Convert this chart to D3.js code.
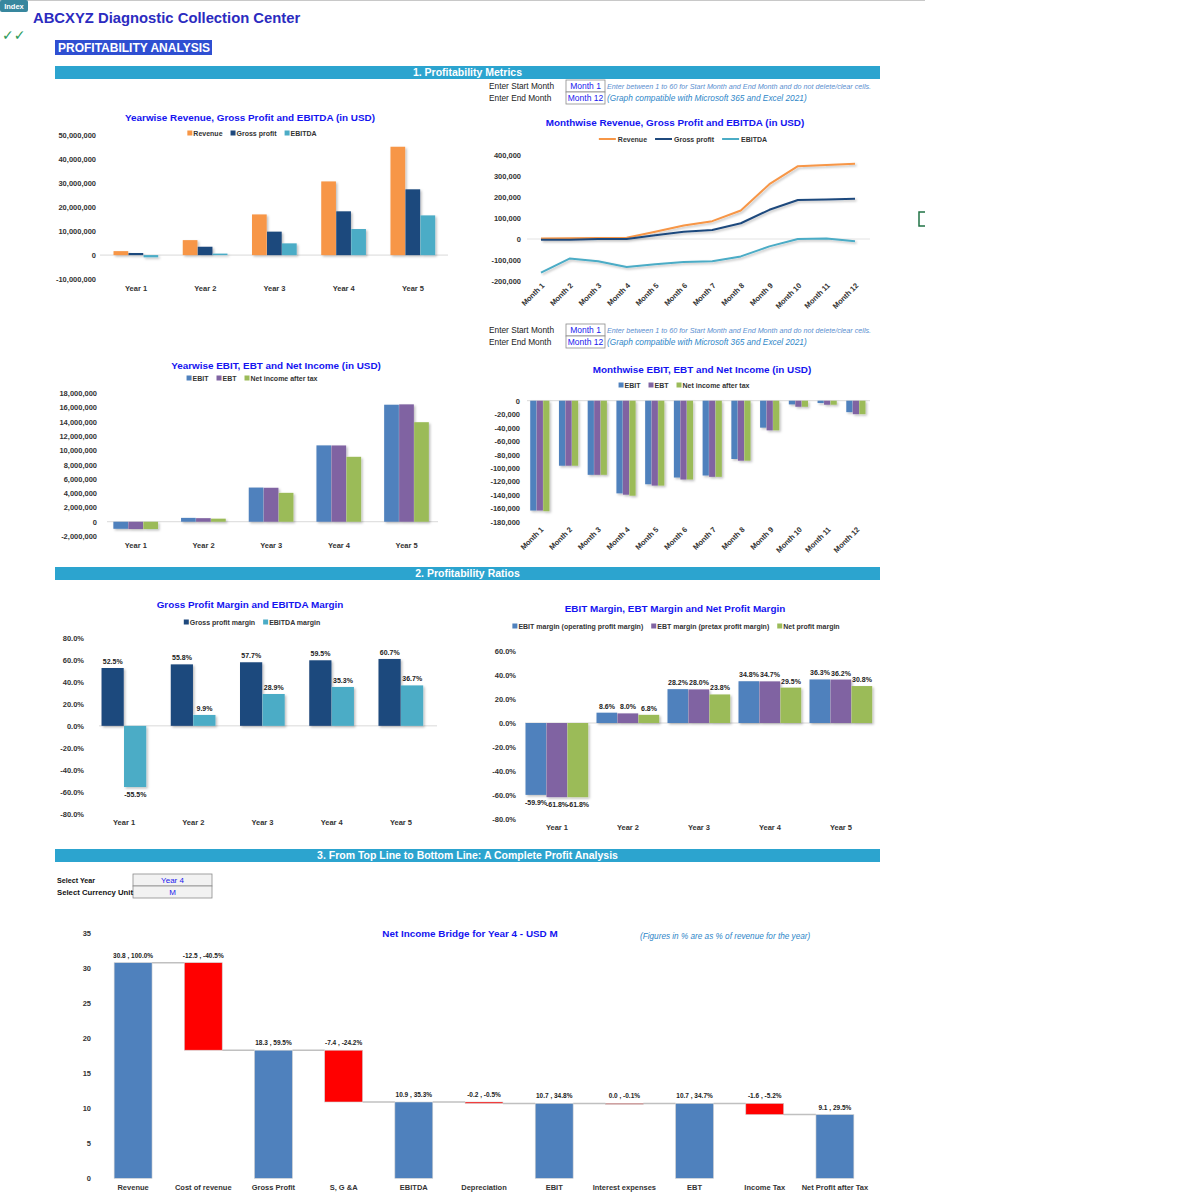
<!DOCTYPE html>
<html>
<head>
<meta charset="utf-8">
<script src="https://cdn.jsdelivr.net/npm/d3@7"></script>
<style>
  body { margin: 0; background: #fff; }
  svg { display: block; }
  text { font-family: "Liberation Sans", Arial, sans-serif; }
  .ctitle { font-size: 9.9px; font-weight: bold; fill: #1414f0; }
  .leg { font-size: 7px; font-weight: bold; fill: #333; }
  .axis text { font-size: 7.5px; font-weight: bold; fill: #333; font-family: "Liberation Sans", Arial, sans-serif; }
  .cat { font-size: 7.5px; font-weight: bold; fill: #333; }
  .dlab { font-size: 7px; font-weight: bold; fill: #222; }
  .blab { font-size: 6.5px; font-weight: bold; fill: #222; }
  .narrow { font-family: "Liberation Sans Narrow", "Arial Narrow", "Liberation Sans", sans-serif; }
</style>
</head>
<body>
<div id="plot"></div>
<script>
// ---- data ----
const years = ["Year 1", "Year 2", "Year 3", "Year 4", "Year 5"];
const months = ["Month 1", "Month 2", "Month 3", "Month 4", "Month 5", "Month 6",
  "Month 7", "Month 8", "Month 9", "Month 10", "Month 11", "Month 12"];

const revenueYear = [1650000, 6250000, 17000000, 30800000, 45300000];
const grossProfitYear = [870000, 3490000, 9800000, 18300000, 27500000];
const ebitdaYear = [-940000, 620000, 4900000, 10900000, 16600000];

const revenueMonth = [2000, 3000, 5000, 6000, 35000, 64000, 85000, 136000, 261000, 347000, 352000, 358000];
const grossProfitMonth = [-4000, -3000, 0, 0, 18000, 34000, 43000, 75000, 139000, 186000, 188000, 192000];
const ebitdaMonth = [-160000, -93000, -106000, -133000, -120000, -110000, -106000, -83000, -35000, 0, 2000, -11000];

const ebitYear = [-990000, 540000, 4790000, 10700000, 16400000];
const ebtYear = [-1020000, 500000, 4760000, 10690000, 16450000];
const netIncomeYear = [-1020000, 430000, 4050000, 9100000, 13950000];

const ebitMonth = [-163000, -96500, -110000, -137500, -124000, -114000, -111000, -86500, -40000, -5500, -3500, -17000];
const ebtMonth = [-163000, -96500, -110000, -139500, -126000, -117000, -113000, -89000, -44000, -9000, -6000, -20000];
const netIncomeMonth = [-164000, -96500, -110000, -141000, -126000, -117000, -113000, -89000, -44000, -9000, -6000, -20000];

const grossMargin = [52.5, 55.8, 57.7, 59.5, 60.7];
const ebitdaMargin = [-55.5, 9.9, 28.9, 35.3, 36.7];
const ebitMargin = [-59.9, 8.6, 28.2, 34.8, 36.3];
const ebtMargin = [-61.8, 8.0, 28.0, 34.7, 36.2];
const netMargin = [-61.8, 6.8, 23.8, 29.5, 30.8];

const bridgeSteps = ["Revenue", "Cost of revenue", "Gross Profit", "S, G &A", "EBITDA", "Depreciation",
  "EBIT", "Interest expenses", "EBT", "Income Tax", "Net Profit after Tax"];
const bridgeValues = [30.8, -12.5, 18.3, -7.4, 10.9, -0.2, 10.7, -0.03, 10.7, -1.6, 9.1];
const bridgePct = [100.0, -40.5, 59.5, -24.2, 35.3, -0.5, 34.8, -0.1, 34.7, -5.2, 29.5];
const bridgeIsTotal = [true, false, true, false, true, false, true, false, true, false, true];

const ticksRevYear = [-10000000, 0, 10000000, 20000000, 30000000, 40000000, 50000000];
const ticksRevMonth = [-200000, -100000, 0, 100000, 200000, 300000, 400000];
const ticksEbitYear = [-2000000, 0, 2000000, 4000000, 6000000, 8000000, 10000000, 12000000, 14000000, 16000000, 18000000];
const ticksEbitMonth = [-180000, -160000, -140000, -120000, -100000, -80000, -60000, -40000, -20000, 0];
const ticksMargin1 = [-80, -60, -40, -20, 0, 20, 40, 60, 80];
const ticksMargin2 = [-80, -60, -40, -20, 0, 20, 40, 60];
const ticksBridge = [0, 5, 10, 15, 20, 25, 30, 35];

const C = {
  orange: "#f79646", navy: "#1f497d", teal: "#4bacc6",
  blue: "#4f81bd", purple: "#8064a2", green: "#9bbb59", red: "#ff0000"
};

const width = 1200, height = 1200;
const svg = d3.select("#plot").append("svg").attr("width", width).attr("height", height);

const defs = svg.append("defs");
defs.append("filter").attr("id", "sh").attr("x", "-20%").attr("y", "-20%").attr("width", "150%").attr("height", "150%")
  .append("feDropShadow").attr("dx", 1.5).attr("dy", 1.5).attr("stdDeviation", 1)
  .attr("flood-color", "#000").attr("flood-opacity", 0.25);

const num = d => (d < 0 ? "-" : "") + d3.format(",")(Math.abs(d));
const pct = d => d.toFixed(1) + "%";

// ---- page furniture ----
svg.append("line").attr("x1", 0).attr("x2", 925).attr("y1", 0.5).attr("y2", 0.5).attr("stroke", "#c8c8c8");
svg.append("rect").attr("x", 0).attr("y", 0).attr("width", 28).attr("height", 12).attr("rx", 2).attr("fill", "#38879e");
svg.append("text").attr("x", 14).attr("y", 9).attr("text-anchor", "middle").attr("fill", "#fff")
  .attr("font-size", 7.5).attr("font-weight", "bold").text("Index");
svg.append("text").attr("x", 33).attr("y", 23).attr("fill", "#2b2bc0").attr("font-size", 14.8).attr("font-weight", "bold")
  .text("ABCXYZ Diagnostic Collection Center");
svg.append("text").attr("x", 2).attr("y", 40).attr("fill", "#2e9a5a").attr("font-size", 14).attr("font-weight", "bold")
  .style("font-family", "'DejaVu Sans'").text("✓✓");
svg.append("rect").attr("x", 55).attr("y", 40).attr("width", 157).attr("height", 15).attr("fill", "#2f4fd2");
svg.append("text").attr("x", 58).attr("y", 52).attr("fill", "#fff").attr("font-size", 12).attr("font-weight", "bold")
  .text("PROFITABILITY ANALYSIS");

function sectionBar(y, label) {
  svg.append("rect").attr("x", 55).attr("y", y).attr("width", 825).attr("height", 13).attr("fill", "#2ca4cf");
  svg.append("text").attr("class", "narrow").attr("x", 467.5).attr("y", y + 10).attr("text-anchor", "middle")
    .attr("fill", "#fff").attr("font-size", 10.5).attr("font-weight", "bold").text(label);
}
sectionBar(66, "1. Profitability Metrics");
sectionBar(567, "2. Profitability Ratios");
sectionBar(849, "3. From Top Line to Bottom Line: A Complete Profit Analysis");

function monthInputs(y) {
  const rows = [["Enter Start Month", "Month 1"], ["Enter End Month", "Month 12"]];
  rows.forEach((r, i) => {
    const yy = y + i * 12;
    svg.append("text").attr("class", "narrow").attr("x", 489).attr("y", yy + 9).attr("font-size", 8.3).attr("fill", "#222").text(r[0]);
    svg.append("rect").attr("x", 566).attr("y", yy).attr("width", 39).attr("height", 12)
      .attr("fill", "#fff").attr("stroke", "#8c8c8c").attr("stroke-width", 0.8);
    svg.append("text").attr("class", "narrow").attr("x", 585.5).attr("y", yy + 9).attr("text-anchor", "middle")
      .attr("font-size", 8.5).attr("fill", "#2020ee").text(r[1]);
  });
  svg.append("text").attr("x", 607).attr("y", y + 8.5).attr("font-size", 7.2).attr("font-style", "italic")
    .attr("fill", "#5b8fd0").text("Enter between 1 to 60 for Start Month and End Month and do not delete/clear cells.");
  svg.append("text").attr("x", 607).attr("y", y + 21).attr("font-size", 8.3).attr("font-style", "italic")
    .attr("fill", "#2e86c8").text("(Graph compatible with Microsoft 365 and Excel 2021)");
}
monthInputs(80);
monthInputs(324);

// selection artefact on the right
svg.append("path").attr("d", "M925,212 L919,212 L919,226 L925,226").attr("fill", "none")
  .attr("stroke", "#217346").attr("stroke-width", 1.5);

// ---- helpers ----
function legend(cx, cy, items, kind) {
  const g = svg.append("g");
  let xpos = 0;
  items.forEach(it => {
    const ig = g.append("g").attr("transform", `translate(${xpos},0)`);
    let tx;
    if (kind === "line") {
      ig.append("line").attr("x1", 0).attr("x2", 17).attr("y1", 0).attr("y2", 0)
        .attr("stroke", it.color).attr("stroke-width", 2);
      tx = 19;
    } else {
      ig.append("rect").attr("x", 0).attr("y", -2.5).attr("width", 5).attr("height", 5).attr("fill", it.color);
      tx = 6;
    }
    const t = ig.append("text").attr("class", "leg").attr("x", tx).attr("y", 2.5).text(it.name);
    xpos += tx + t.node().getComputedTextLength() + 8;
  });
  g.attr("transform", `translate(${cx - (xpos - 8) / 2},${cy})`);
}

function yAxis(y, x, ticks, fmt) {
  const ax = svg.append("g").attr("class", "axis").attr("transform", `translate(${x},0)`)
    .call(d3.axisLeft(y).tickValues(ticks).tickFormat(fmt).tickSize(0).tickPadding(0));
  ax.select(".domain").remove();
}

function catLabels(x, cats, yLab, rotate) {
  cats.forEach(c => {
    const cx = x(c) + x.bandwidth() / 2;
    const t = svg.append("text").attr("class", "cat").text(c);
    if (rotate) {
      t.attr("text-anchor", "end").attr("transform", `translate(${cx + 4},${yLab}) rotate(-45)`);
    } else {
      t.attr("x", cx).attr("y", yLab).attr("text-anchor", "middle");
    }
  });
}

function barChart(o) {
  const x = d3.scaleBand().domain(o.cats).range(o.xr);
  const y = d3.scaleLinear().domain(o.yd).range(o.yr);
  svg.append("text").attr("class", "ctitle").attr("x", o.titleX).attr("y", o.titleY)
    .attr("text-anchor", "middle").text(o.title);
  legend(o.legendX, o.legendY, o.series, "rect");
  yAxis(y, o.axisX, o.ticks, o.fmt);
  svg.append("line").attr("x1", o.zx[0]).attr("x2", o.zx[1]).attr("y1", y(0)).attr("y2", y(0))
    .attr("stroke", "#d9d9d9").attr("stroke-width", 1);
  const n = o.series.length;
  const g = svg.append("g").attr("filter", "url(#sh)");
  o.series.forEach((s, i) => {
    const bx = (d, j) => x(o.cats[j]) + x.bandwidth() / 2 - n * o.bw / 2 + i * o.bw;
    g.selectAll(null).data(s.values).join("rect")
      .attr("x", bx)
      .attr("y", d => Math.min(y(d), y(0)))
      .attr("width", o.bw - 0.3)
      .attr("height", d => Math.abs(y(d) - y(0)))
      .attr("fill", s.color);
    if (o.labels) {
      svg.selectAll(null).data(s.values).join("text").attr("class", "dlab")
        .attr("x", (d, j) => bx(d, j) + o.bw / 2)
        .attr("y", d => d >= 0 ? y(d) - 4 : y(d) + 10)
        .attr("text-anchor", "middle")
        .text(d => pct(d));
    }
  });
  catLabels(x, o.cats, o.catY, o.rotate);
}

// ---- chart 1: yearwise revenue ----
barChart({
  cats: years, xr: [101.4, 447.6], yd: [-10000000, 50000000], yr: [279, 135.5],
  title: "Yearwise Revenue, Gross Profit and EBITDA (in USD)", titleX: 250, titleY: 121,
  legendX: 252, legendY: 133, axisX: 96, ticks: ticksRevYear, fmt: num, zx: [100, 448],
  bw: 15, catY: 291,
  series: [
    { name: "Revenue", color: C.orange, values: revenueYear },
    { name: "Gross profit", color: C.navy, values: grossProfitYear },
    { name: "EBITDA", color: C.teal, values: ebitdaYear }
  ]
});

// ---- chart 2: monthwise lines ----
(function () {
  const x = d3.scaleBand().domain(months).range([526.7, 869.3]);
  const y = d3.scaleLinear().domain([-200000, 400000]).range([281, 155]);
  svg.append("text").attr("class", "ctitle").attr("x", 675).attr("y", 126).attr("text-anchor", "middle")
    .text("Monthwise Revenue, Gross Profit and EBITDA (in USD)");
  const series = [
    { name: "Revenue", color: C.orange, values: revenueMonth },
    { name: "Gross profit", color: C.navy, values: grossProfitMonth },
    { name: "EBITDA", color: C.teal, values: ebitdaMonth }
  ];
  legend(683, 139, series, "line");
  yAxis(y, 521, ticksRevMonth, num);
  svg.append("line").attr("x1", 527).attr("x2", 870).attr("y1", y(0)).attr("y2", y(0))
    .attr("stroke", "#e3e3e3").attr("stroke-width", 1);
  const line = d3.line().x((d, i) => x(months[i]) + x.bandwidth() / 2).y(d => y(d));
  const g = svg.append("g").attr("filter", "url(#sh)");
  series.forEach(s => {
    g.append("path").datum(s.values).attr("d", line).attr("fill", "none")
      .attr("stroke", s.color).attr("stroke-width", 2).attr("stroke-linejoin", "round");
  });
  catLabels(x, months, 286, true);
})();

// ---- chart 3: yearwise EBIT ----
barChart({
  cats: years, xr: [102, 440.5], yd: [-2000000, 18000000], yr: [536, 393.3],
  title: "Yearwise EBIT, EBT and Net Income (in USD)", titleX: 276, titleY: 369,
  legendX: 252, legendY: 378, axisX: 97, ticks: ticksEbitYear, fmt: num, zx: [107, 438],
  bw: 15, catY: 548,
  series: [
    { name: "EBIT", color: C.blue, values: ebitYear },
    { name: "EBT", color: C.purple, values: ebtYear },
    { name: "Net income after tax", color: C.green, values: netIncomeYear }
  ]
});

// ---- chart 4: monthwise EBIT ----
barChart({
  cats: months, xr: [525.6, 870.4], yd: [-180000, 0], yr: [522, 400.7],
  title: "Monthwise EBIT, EBT and Net Income (in USD)", titleX: 702, titleY: 373,
  legendX: 684, legendY: 385, axisX: 520, ticks: ticksEbitMonth, fmt: num, zx: [527, 870],
  bw: 6.5, catY: 530, rotate: true,
  series: [
    { name: "EBIT", color: C.blue, values: ebitMonth },
    { name: "EBT", color: C.purple, values: ebtMonth },
    { name: "Net income after tax", color: C.green, values: netIncomeMonth }
  ]
});

// ---- chart 5: gross profit & EBITDA margin ----
barChart({
  cats: years, xr: [89.4, 435.6], yd: [-80, 80], yr: [814, 637.7],
  title: "Gross Profit Margin and  EBITDA Margin", titleX: 250, titleY: 608,
  legendX: 252, legendY: 622, axisX: 84, ticks: ticksMargin1, fmt: pct, zx: [99, 437],
  bw: 22.5, catY: 825, labels: true,
  series: [
    { name: "Gross profit margin", color: C.navy, values: grossMargin },
    { name: "EBITDA margin", color: C.teal, values: ebitdaMargin }
  ]
});

// ---- chart 6: EBIT / EBT / net margin ----
barChart({
  cats: years, xr: [521.5, 876.5], yd: [-80, 60], yr: [819, 651],
  title: "EBIT Margin, EBT Margin and Net Profit Margin", titleX: 675, titleY: 612,
  legendX: 676, legendY: 626, axisX: 516, ticks: ticksMargin2, fmt: pct, zx: [525, 872],
  bw: 21, catY: 830, labels: true,
  series: [
    { name: "EBIT margin (operating profit margin)", color: C.blue, values: ebitMargin },
    { name: "EBT margin (pretax profit margin)", color: C.purple, values: ebtMargin },
    { name: "Net profit margin", color: C.green, values: netMargin }
  ]
});

// ---- section 3 selectors ----
[["Select Year", "Year 4", 38], ["Select Currency Unit", "M", 76]].forEach((r, i) => {
  const yy = 874 + i * 12;
  svg.append("rect").attr("x", 133).attr("y", yy).attr("width", 79).attr("height", 12)
    .attr("fill", "#f2f2f2").attr("stroke", "#8c8c8c").attr("stroke-width", 0.8);
  svg.append("text").attr("x", 57).attr("y", yy + 9).attr("font-size", 8)
    .attr("font-weight", "bold").attr("fill", "#111")
    .attr("textLength", r[2]).attr("lengthAdjust", "spacingAndGlyphs").text(r[0]);
  svg.append("text").attr("class", "narrow").attr("x", 172.5).attr("y", yy + 9).attr("text-anchor", "middle")
    .attr("font-size", 8).attr("fill", "#2020ee").text(r[1]);
});

// ---- bridge chart ----
(function () {
  const x = d3.scaleBand().domain(bridgeSteps).range([98, 870]).paddingInner(0.46).paddingOuter(0.23);
  const y = d3.scaleLinear().domain([0, 35]).range([1178.3, 933.3]);
  svg.append("text").attr("class", "ctitle").attr("x", 470).attr("y", 937).attr("text-anchor", "middle")
    .text("Net Income Bridge for Year 4 - USD M");
  svg.append("text").attr("x", 640).attr("y", 939).attr("font-size", 8.2).attr("font-style", "italic")
    .attr("fill", "#2e86c8").text("(Figures in % are as % of revenue for the year)");
  yAxis(y, 91, ticksBridge, d => d);

  let run = 0;
  const bars = bridgeValues.map((v, i) => {
    let lo, hi, end;
    if (bridgeIsTotal[i]) { lo = 0; hi = v; end = v; }
    else { end = run + v; lo = Math.min(run, end); hi = Math.max(run, end); }
    const b = { name: bridgeSteps[i], v, pct: bridgePct[i], lo, hi, end, total: bridgeIsTotal[i] };
    run = end;
    return b;
  });

  // connectors
  bars.slice(0, -1).forEach((b, i) => {
    const nb = bars[i + 1];
    svg.append("line")
      .attr("x1", x(b.name) + x.bandwidth()).attr("x2", x(nb.name))
      .attr("y1", y(b.end)).attr("y2", y(b.end))
      .attr("stroke", "#c0c0c0").attr("stroke-width", 1.5);
  });

  svg.selectAll(null).data(bars).join("rect")
    .attr("x", d => x(d.name))
    .attr("y", d => y(d.hi))
    .attr("width", x.bandwidth())
    .attr("height", d => Math.max(0.8, y(d.lo) - y(d.hi)))
    .attr("fill", d => d.total ? C.blue : C.red)
    .attr("stroke", d => Math.abs(d.v) < 0.1 && !d.total ? "#bbb" : "#d0d0d0")
    .attr("stroke-width", 0.6);

  const f1 = v => (Math.abs(v) < 0.05 ? "0.0" : v.toFixed(1));
  svg.selectAll(null).data(bars).join("text").attr("class", "blab")
    .attr("x", d => x(d.name) + x.bandwidth() / 2)
    .attr("y", d => y(d.hi) - 5)
    .attr("text-anchor", "middle")
    .text(d => `${f1(d.v)} , ${d.pct.toFixed(1)}%`);

  catLabels(x, bridgeSteps, 1190, false);
})();
</script>
</body>
</html>
